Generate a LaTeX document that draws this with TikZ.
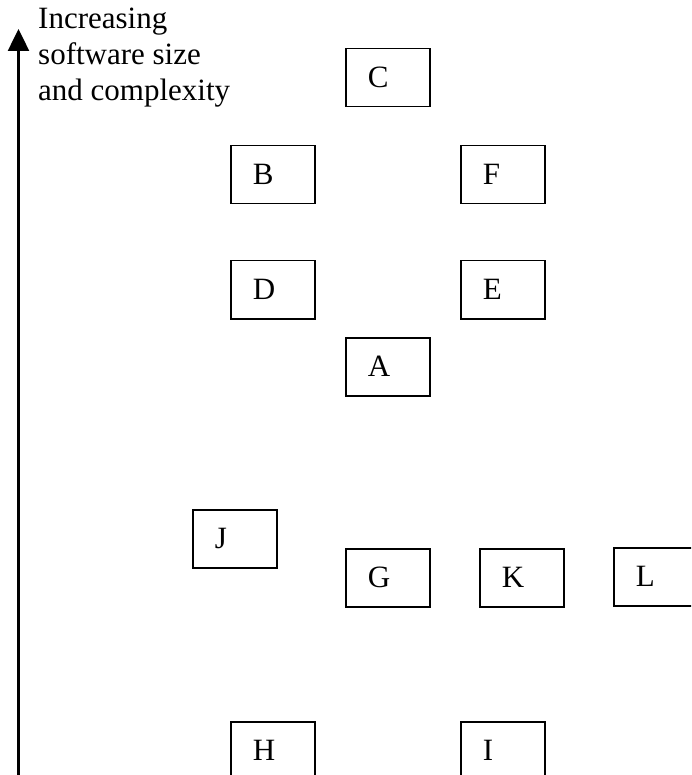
\documentclass[tikz,border=0pt]{standalone}
\usepackage{fontspec}
\setmainfont{Liberation Serif}
\usetikzlibrary{arrows.meta}
\tikzset{
  modbox/.style={draw,line width=1.5pt,anchor=north west,minimum height=58pt,
    text width=40pt,inner xsep=22pt,inner ysep=0pt,align=left,
    font=\fontsize{31}{36}\selectfont},
  axislabel/.style={anchor=north west,inner sep=0pt,align=left,
    font=\fontsize{31}{36}\selectfont}
}
\begin{document}
\begin{tikzpicture}[x=1pt,y=-1pt]
\useasboundingbox (0,0) rectangle (691,775);
\clip (0,0) rectangle (691,775);
% axis
\coordinate (axisbottom) at (18.5,776);
\coordinate (axistop) at (18.5,29);
\draw[line width=2.5pt,-{Triangle[width=21pt,length=22pt]}] (axisbottom) -- (axistop);
\node[axislabel] (sizelabel) at (38,8) {Increasing\\software size\\and complexity};
% boxes
\node[modbox] (C) at (345,48) {C};
\node[modbox] (B) at (230,145) {B};
\node[modbox] (F) at (460,145) {F};
\node[modbox] (D) at (230,260) {D};
\node[modbox] (E) at (460,260) {E};
\node[modbox] (A) at (345,337) {A};
\node[modbox] (J) at (192,509) {J};
\node[modbox] (G) at (345,548) {G};
\node[modbox] (K) at (479,548) {K};
\node[modbox] (L) at (613,547) {L};
\node[modbox] (H) at (230,721) {H};
\node[modbox] (I) at (460,721) {I};
\end{tikzpicture}
\end{document}
